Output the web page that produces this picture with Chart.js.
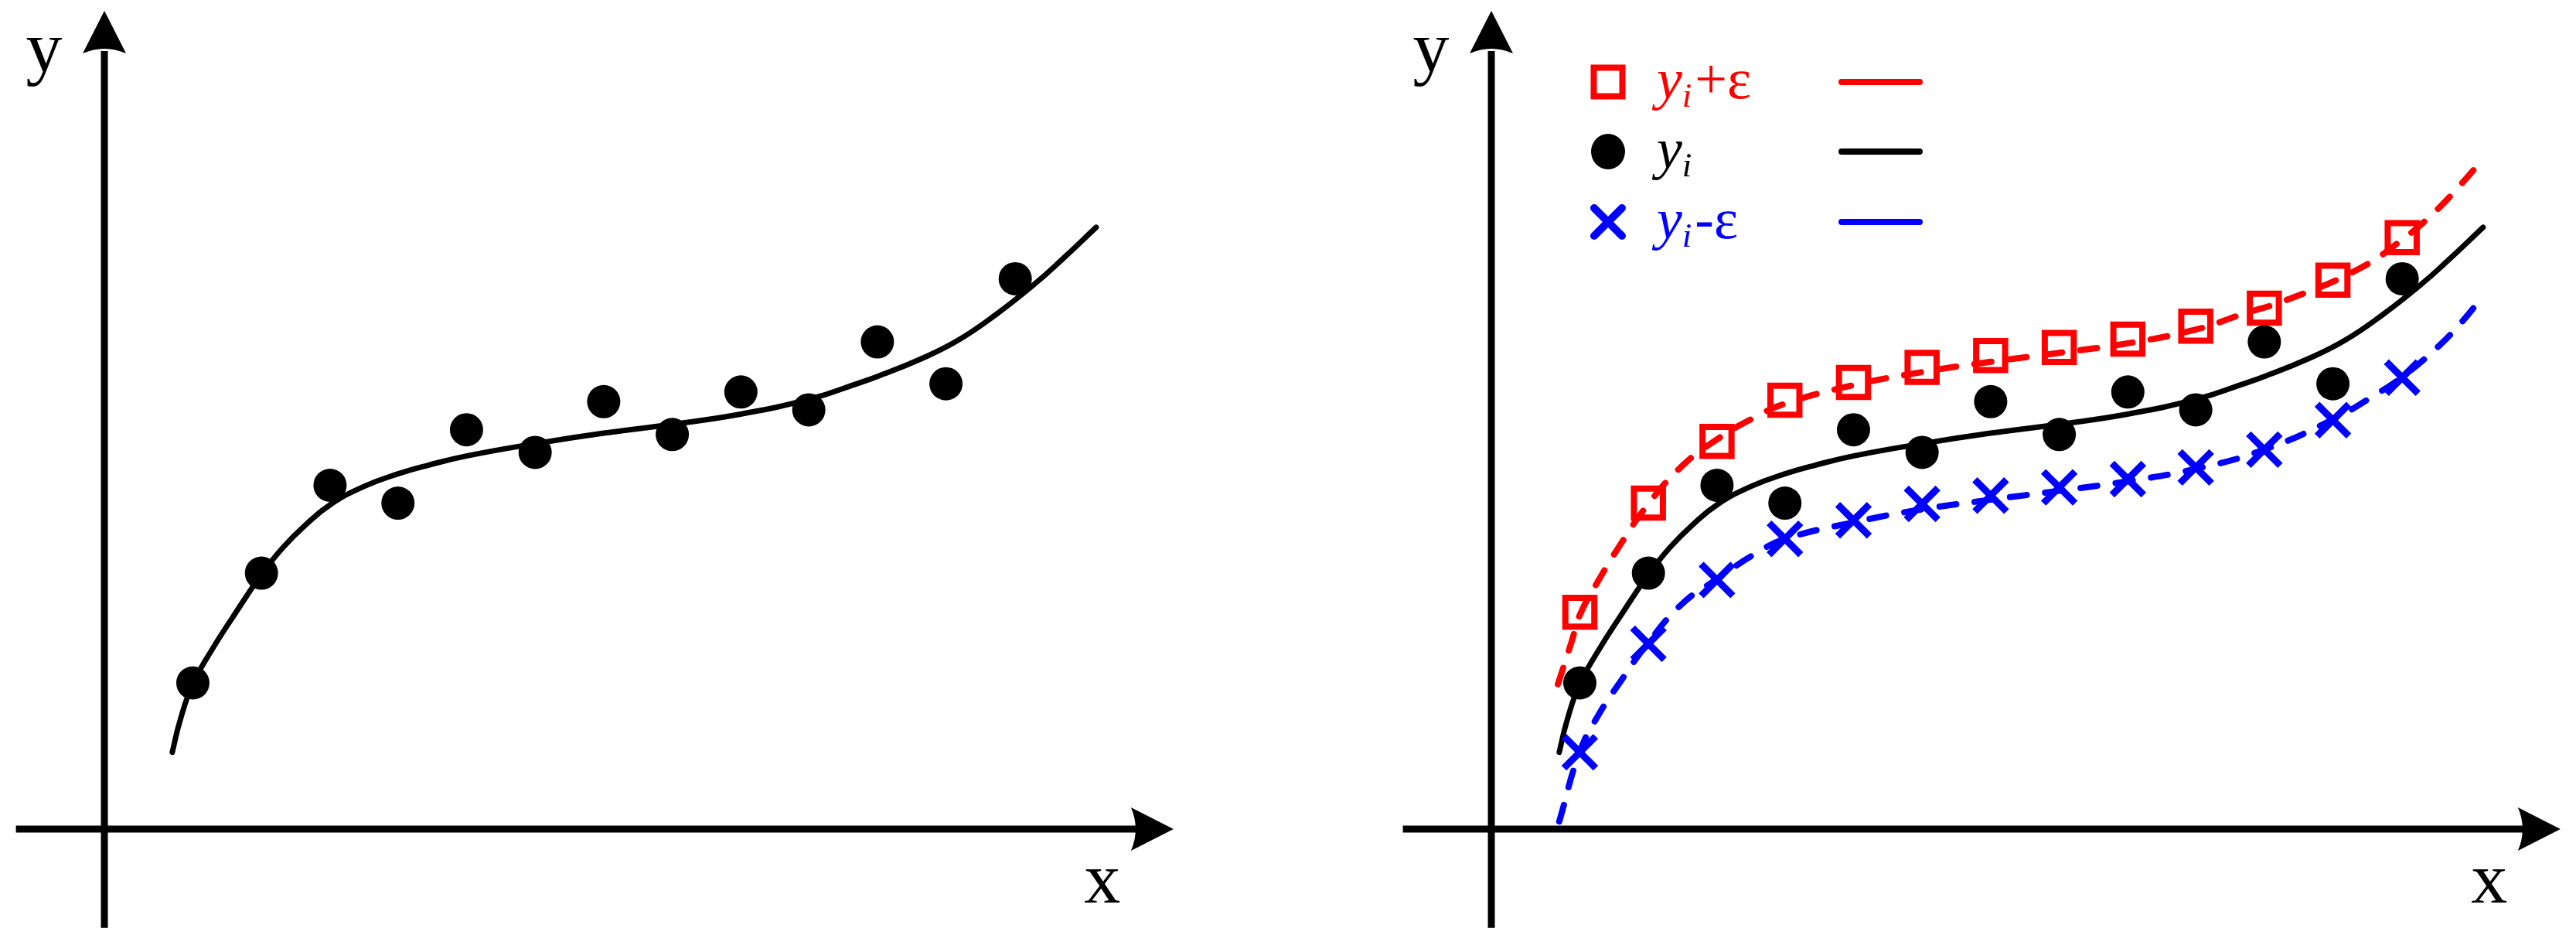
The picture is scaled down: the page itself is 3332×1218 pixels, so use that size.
<!DOCTYPE html>
<html>
<head>
<meta charset="utf-8">
<script src="https://cdn.jsdelivr.net/npm/chart.js@4.4.1/dist/chart.umd.min.js"></script>
<style>
  html, body { margin: 0; padding: 0; background: #fff; }
  #wrap { position: relative; width: 3332px; height: 1218px; overflow: hidden; }
  canvas { position: absolute; top: 0; }
  #leftChart { left: 0; }
  #rightChart { left: 1794px; }
</style>
</head>
<body>
<div id="wrap">
  <canvas id="leftChart" width="1538" height="1218"></canvas>
  <canvas id="rightChart" width="1538" height="1218"></canvas>
</div>
<script>
// sample points (same x for every series)
const xPos   = [1.29, 2.29, 3.29, 4.28, 5.28, 6.28, 7.28, 8.28, 9.28, 10.27, 11.27, 12.27, 13.28];
const yObs   = [2.13, 3.73, 5.01, 4.75, 5.82, 5.49, 6.23, 5.75, 6.37, 6.11, 7.10, 6.49, 8.02];
const yPlus  = [3.16, 4.75, 5.65, 6.25, 6.51, 6.73, 6.90, 7.02, 7.14, 7.33, 7.59, 8.00, 8.62];
const yMinus = [1.12, 2.70, 3.63, 4.23, 4.50, 4.74, 4.86, 4.98, 5.10, 5.27, 5.53, 5.96, 6.58];

// fitted curve y_i
const fitX = [0.99, 1.10, 1.29, 1.56, 1.86, 2.29, 2.60, 2.94, 3.31, 3.80, 4.29, 4.71, 5.29, 6.30, 7.28, 8.29, 9.29, 10.30, 10.94, 11.28, 11.90, 12.44, 13.00, 13.57, 13.94, 14.46];
const fitY = [1.12, 1.57, 2.12, 2.60, 3.07, 3.71, 4.10, 4.44, 4.74, 5.00, 5.18, 5.30, 5.44, 5.62, 5.77, 5.90, 6.05, 6.27, 6.48, 6.60, 6.85, 7.12, 7.50, 7.95, 8.28, 8.77];

// upper curve y_i+e
const upperX = [0.97, 1.17, 1.29, 1.56, 1.89, 2.29, 2.79, 3.29, 3.80, 4.28, 5.28, 6.28, 7.28, 8.28, 9.28, 10.27, 10.94, 11.62, 12.64, 13.28, 13.76, 14.14, 14.46];
const upperY = [2.11, 2.73, 3.12, 3.62, 4.16, 4.74, 5.30, 5.68, 5.98, 6.20, 6.47, 6.66, 6.81, 6.94, 7.08, 7.28, 7.50, 7.72, 8.16, 8.59, 9.00, 9.40, 9.77];

// lower curve y_i-e
const lowerX = [0.99, 1.29, 1.56, 1.89, 2.29, 2.79, 3.30, 3.86, 4.29, 5.28, 6.28, 7.28, 8.28, 9.28, 10.27, 11.27, 12.27, 12.89, 13.28, 13.76, 14.14, 14.46];
const lowerY = [0.11, 1.13, 1.66, 2.16, 2.72, 3.29, 3.65, 4.02, 4.23, 4.47, 4.66, 4.80, 4.93, 5.07, 5.25, 5.53, 5.97, 6.33, 6.59, 6.99, 7.38, 7.77];

// axes (start, end of the shaft)
const axisXRange = [-1.29, 15.08];
const axisYRange = [-1.44, 11.34];
const axisNames = ['x', 'y'];

const legendSuffix = ['+ε', '', '-ε'];

const RED = '#ff0000', BLUE = '#0000ff', BLACK = '#000000';

function pts(xs, ys) {
    return xs.map((x, i) => ({x: x, y: ys[i]}));
}

function arrow(ctx, tx, ty, dx, dy) {
    const len = 55, half = 28;
    const bx = tx - dx * len, by = ty - dy * len;
    const px = -dy, py = dx;
    ctx.beginPath();
    ctx.moveTo(tx, ty);
    ctx.lineTo(bx + px * half, by + py * half);
    ctx.quadraticCurveTo(bx + dx * 12, by + dy * 12, bx - px * half, by - py * half);
    ctx.closePath();
    ctx.fill();
}

const axisDecor = {
    id: 'axisDecor',
    afterDatasetsDraw(chart) {
        const ctx = chart.ctx;
        const sx = chart.scales.x, sy = chart.scales.y;
        const ox = sx.getPixelForValue(0), oy = sy.getPixelForValue(0);
        ctx.save();
        ctx.fillStyle = BLACK;
        // arrow heads
        arrow(ctx, sx.getPixelForValue(axisXRange[1]) + 45, oy, 1, 0);
        arrow(ctx, ox, sy.getPixelForValue(axisYRange[1]) - 52, 0, -1);
        // axis names
        ctx.font = '94px "Liberation Serif", "Times New Roman", serif';
        ctx.textAlign = 'center';
        ctx.textBaseline = 'alphabetic';
        ctx.fillText(axisNames[0], sx.getPixelForValue(14.55), sy.getPixelForValue(-1.07));
        ctx.fillText(axisNames[1], sx.getPixelForValue(-0.88), sy.getPixelForValue(11.05));
        ctx.restore();
    }
};

const legendDecor = {
    id: 'legendDecor',
    afterDraw(chart) {
        const ctx = chart.ctx;
        const colors = [RED, BLACK, BLUE];
        const rows = [106, 196, 287];
        const mx = 286;
        ctx.save();
        rows.forEach((cy, i) => {
            const c = colors[i];
            ctx.fillStyle = c;
            ctx.strokeStyle = c;
            ctx.lineWidth = 8;
            ctx.lineCap = 'butt';
            ctx.lineJoin = 'miter';
            if (i === 0) {
                ctx.strokeRect(mx - 18.5, cy - 18.5, 37, 37);
            } else if (i === 1) {
                ctx.beginPath();
                ctx.ellipse(mx, cy, 22, 23, 0, 0, Math.PI * 2);
                ctx.fill();
            } else {
                ctx.lineWidth = 10;
                ctx.lineCap = 'round';
                ctx.beginPath();
                ctx.moveTo(mx - 18, cy - 18); ctx.lineTo(mx + 18, cy + 18);
                ctx.moveTo(mx + 18, cy - 18); ctx.lineTo(mx - 18, cy + 18);
                ctx.stroke();
            }
            // label
            let tx = 349;
            ctx.textAlign = 'left';
            ctx.textBaseline = 'alphabetic';
            ctx.font = 'italic 74px "Liberation Serif", "Times New Roman", serif';
            ctx.fillText('y', tx, cy + 21);
            tx += ctx.measureText('y').width;
            ctx.font = 'italic 45px "Liberation Serif", "Times New Roman", serif';
            ctx.fillText('i', tx, cy + 32);
            tx += ctx.measureText('i').width + 4;
            ctx.font = '74px "Liberation Serif", "Times New Roman", serif';
            if (legendSuffix[i]) ctx.fillText(legendSuffix[i], tx, cy + 21);
            // line sample
            ctx.lineWidth = 8;
            ctx.lineCap = 'round';
            ctx.beginPath();
            ctx.moveTo(588, cy);
            ctx.lineTo(689, cy);
            ctx.stroke();
        });
        ctx.restore();
    }
};

function axisSets() {
    return [
        {
            data: [{x: axisXRange[0], y: 0}, {x: axisXRange[1], y: 0}],
            showLine: true, borderColor: BLACK, borderWidth: 9, pointRadius: 0, order: 3
        },
        {
            data: [{x: 0, y: axisYRange[0]}, {x: 0, y: axisYRange[1]}],
            showLine: true, borderColor: BLACK, borderWidth: 9, pointRadius: 0, order: 3
        }
    ];
}

function curve(xs, ys, color, dashed) {
    return {
        data: pts(xs, ys),
        showLine: true,
        borderColor: color,
        borderWidth: dashed ? 8 : 7,
        borderDash: dashed ? [22, 24] : [],
        borderCapStyle: 'round',
        tension: 0.45,
        pointRadius: 0,
        order: 2
    };
}

const dots = {
    data: pts(xPos, yObs),
    showLine: false,
    pointStyle: 'circle',
    pointRadius: 21.5,
    pointBorderWidth: 0,
    pointBackgroundColor: BLACK,
    pointBorderColor: BLACK,
    order: 0
};

const squares = {
    data: pts(xPos, yPlus),
    showLine: false,
    pointStyle: 'rect',
    pointRadius: 26.5,
    pointBorderWidth: 8,
    pointBackgroundColor: 'rgba(0,0,0,0)',
    pointBorderColor: RED,
    order: 0
};

const crosses = {
    data: pts(xPos, yMinus),
    showLine: false,
    pointStyle: 'crossRot',
    pointRadius: 29,
    pointBorderWidth: 9,
    pointBackgroundColor: BLUE,
    pointBorderColor: BLUE,
    order: 0
};

function makeConfig(datasets, plugins) {
    return {
        type: 'scatter',
        data: {datasets: datasets},
        plugins: plugins,
        options: {
            responsive: false,
            animation: false,
            devicePixelRatio: 1,
            layout: {padding: 0, autoPadding: false},
            plugins: {
                legend: {display: false},
                tooltip: {enabled: false}
            },
            scales: {
                x: {type: 'linear', display: false, min: -1.522, max: 15.814},
                y: {type: 'linear', display: false, min: -1.646, max: 12.083}
            }
        }
    };
}

new Chart(document.getElementById('leftChart'), makeConfig(
    axisSets().concat([curve(fitX, fitY, BLACK, false), dots]),
    [axisDecor]
));

new Chart(document.getElementById('rightChart'), makeConfig(
    axisSets().concat([
        curve(fitX, fitY, BLACK, false),
        curve(upperX, upperY, RED, true),
        curve(lowerX, lowerY, BLUE, true),
        Object.assign({}, dots),
        squares,
        crosses
    ]),
    [axisDecor, legendDecor]
));
</script>
</body>
</html>
